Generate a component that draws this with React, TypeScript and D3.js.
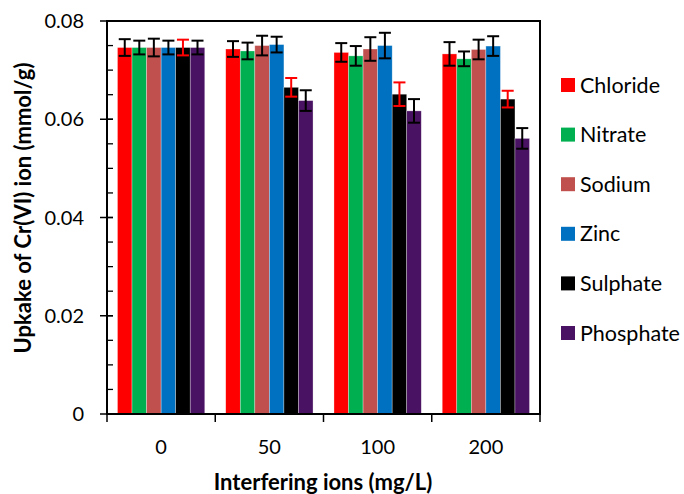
import React, { useEffect, useRef } from "react";
import * as d3 from "d3";

const categories = ["0", "50", "100", "200"];
const seriesNames = ["Chloride", "Nitrate", "Sodium", "Zinc", "Sulphate", "Phosphate"];
const seriesColors = ["#ff0000", "#00b050", "#c0504d", "#0070c0", "#000000", "#4a1262"];
const errorColors = ["#000", "#000", "#000", "#000", "#ff0000", "#000"];

// values per series, one per category
const chloride = [0.0746, 0.0743, 0.0736, 0.0733];
const nitrate = [0.0746, 0.0739, 0.0729, 0.0723];
const sodium = [0.0746, 0.075, 0.0743, 0.0742];
const zinc = [0.0746, 0.0752, 0.075, 0.0749];
const sulphate = [0.0746, 0.0665, 0.0651, 0.0641];
const phosphate = [0.0746, 0.0638, 0.0617, 0.0561];

const chlorideErr = [0.0017, 0.0016, 0.0019, 0.0024];
const nitrateErr = [0.0014, 0.0017, 0.002, 0.0015];
const sodiumErr = [0.0018, 0.002, 0.0024, 0.002];
const zincErr = [0.0014, 0.0016, 0.0026, 0.002];
const sulphateErr = [0.0016, 0.0019, 0.0024, 0.0017];
const phosphateErr = [0.0014, 0.0021, 0.0024, 0.0021];

const yTicks = [0, 0.02, 0.04, 0.06, 0.08];

const values = [chloride, nitrate, sodium, zinc, sulphate, phosphate];
const errors = [chlorideErr, nitrateErr, sodiumErr, zincErr, sulphateErr, phosphateErr];

const FONT = "Lato, 'Open Sans', sans-serif";

const App = () => {
  const ref = useRef<SVGSVGElement>(null);

  useEffect(() => {
    const width = 684;
    const height = 494;
    const left = 107;
    const right = 540;
    const top = 21;
    const bottom = 414;

    const svg = d3.select(ref.current);
    svg.selectAll("*").remove();
    svg.attr("width", width).attr("height", height);

    const x = d3.scaleBand().domain(categories).range([left, right]).paddingInner(0).paddingOuter(0);
    const inner = d3
      .scaleBand()
      .domain(seriesNames)
      .range([0, x.bandwidth()])
      .paddingOuter(0.72)
      .paddingInner(0);
    const y = d3.scaleLinear().domain([0, 0.08]).range([bottom, top]);

    // bars
    seriesNames.forEach((name, si) => {
      svg
        .append("g")
        .selectAll("rect")
        .data(values[si])
        .enter()
        .append("rect")
        .attr("x", (_, i) => x(categories[i])! + inner(name)!)
        .attr("y", (d) => y(d))
        .attr("width", inner.bandwidth())
        .attr("height", (d) => bottom - y(d))
        .attr("fill", seriesColors[si])
        .attr("stroke", "#ffffff")
        .attr("stroke-opacity", 0.5)
        .attr("stroke-width", 0.6);
    });

    // error bars
    seriesNames.forEach((name, si) => {
      const g = svg.append("g").attr("stroke", errorColors[si]).attr("stroke-width", 2);
      values[si].forEach((v, i) => {
        const cx = x(categories[i])! + inner(name)! + inner.bandwidth() / 2;
        const e = errors[si][i];
        g.append("line").attr("x1", cx).attr("x2", cx).attr("y1", y(v + e)).attr("y2", y(v - e));
        g.append("line").attr("x1", cx - 6).attr("x2", cx + 6).attr("y1", y(v + e)).attr("y2", y(v + e));
        g.append("line").attr("x1", cx - 6).attr("x2", cx + 6).attr("y1", y(v - e)).attr("y2", y(v - e));
      });
    });

    // frame
    svg
      .append("rect")
      .attr("x", left)
      .attr("y", top)
      .attr("width", right - left)
      .attr("height", bottom - top)
      .attr("fill", "none")
      .attr("stroke", "#000")
      .attr("stroke-width", 2);

    // y ticks
    const minor = d3.range(0, 0.0801, 0.005);
    svg
      .append("g")
      .selectAll("line")
      .data(minor)
      .enter()
      .append("line")
      .attr("x1", left)
      .attr("x2", left + 6)
      .attr("y1", (d) => y(d))
      .attr("y2", (d) => y(d))
      .attr("stroke", "#000")
      .attr("stroke-width", 1.3);
    svg
      .append("g")
      .selectAll("line")
      .data(yTicks)
      .enter()
      .append("line")
      .attr("x1", left - 7)
      .attr("x2", left + 6)
      .attr("y1", (d) => y(d))
      .attr("y2", (d) => y(d))
      .attr("stroke", "#000")
      .attr("stroke-width", 1.5);
    svg
      .append("g")
      .selectAll("text")
      .data(yTicks)
      .enter()
      .append("text")
      .attr("x", 84)
      .attr("y", (d) => y(d))
      .attr("dy", "0.35em")
      .attr("text-anchor", "end")
      .style("font-family", FONT)
      .style("font-size", "20px")
      .text((d) => (d === 0 ? "0" : d.toFixed(2)));

    // x ticks at category boundaries
    const bounds = categories.map((c) => x(c)!).concat([right]);
    svg
      .append("g")
      .selectAll("line")
      .data(bounds)
      .enter()
      .append("line")
      .attr("x1", (d) => d)
      .attr("x2", (d) => d)
      .attr("y1", bottom)
      .attr("y2", bottom + 8)
      .attr("stroke", "#000")
      .attr("stroke-width", 1.5);
    svg
      .append("g")
      .selectAll("text")
      .data(categories)
      .enter()
      .append("text")
      .attr("x", (d) => x(d)! + x.bandwidth() / 2)
      .attr("y", 447)
      .attr("dy", "0.35em")
      .attr("text-anchor", "middle")
      .style("font-family", FONT)
      .style("font-size", "20px")
      .text((d) => d);

    // axis titles
    svg
      .append("text")
      .attr("x", 323)
      .attr("y", 482)
      .attr("dy", "0.35em")
      .attr("text-anchor", "middle")
      .style("font-family", FONT)
      .style("font-size", "22px")
      .style("font-weight", "bold")
      .text("Interfering ions (mg/L)");
    svg
      .append("text")
      .attr("transform", "translate(23,208) rotate(-90)")
      .attr("dy", "0.35em")
      .attr("text-anchor", "middle")
      .style("font-family", FONT)
      .style("font-size", "22px")
      .style("font-weight", "bold")
      .text("Upkake of Cr(VI) ion (mmol/g)");

    // legend
    const legend = svg
      .append("g")
      .selectAll("g")
      .data(seriesNames)
      .enter()
      .append("g")
      .attr("transform", (_, i) => `translate(561,${85 + i * 49.6})`);
    legend
      .append("rect")
      .attr("x", 0)
      .attr("y", -7)
      .attr("width", 14)
      .attr("height", 14)
      .attr("fill", (_, i) => seriesColors[i]);
    legend
      .append("text")
      .attr("x", 19)
      .attr("y", 0)
      .attr("dy", "0.35em")
      .style("font-family", FONT)
      .style("font-size", "21.5px")
      .text((d) => d);
  }, []);

  return (
    <svg ref={ref} style={{ position: "absolute", left: 0, top: 0, background: "#fff" }}></svg>
  );
};

export default App;
